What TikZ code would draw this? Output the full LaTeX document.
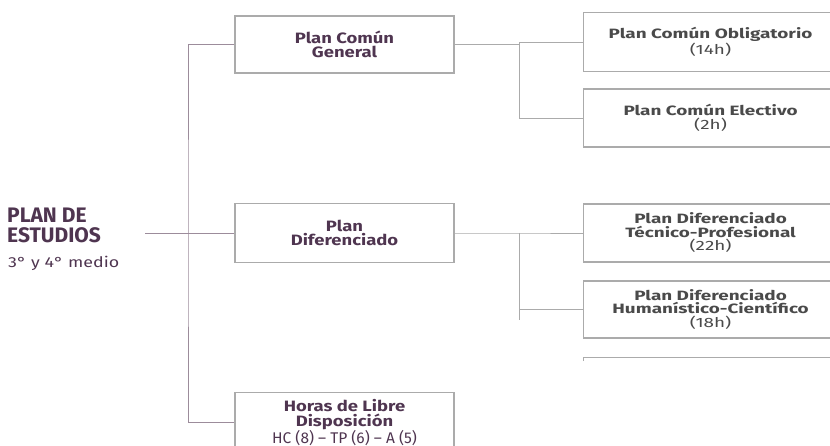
\documentclass[tikz,border=0pt]{standalone}
\usepackage{fontspec}
\setmainfont{Fira Sans}
\newfontfamily\leftfont[FakeStretch=1.23]{Fira Sans}
\newfontfamily\rightfont[FakeStretch=1.4]{Fira Sans}
\usepackage{xcolor}
\usetikzlibrary{positioning}

\definecolor{plum}{HTML}{4F3550}
\definecolor{treeline}{HTML}{9C8C9B}
\definecolor{boxline}{HTML}{ABABAB}
\definecolor{greytext}{HTML}{4A4A4A}

\begin{document}
\begin{tikzpicture}[x=1pt, y=-1pt,
            leftbox/.style={draw=boxline, line width=1.1pt, rectangle, minimum width=219pt, minimum height=57pt, align=center, text=plum, font=\leftfont\fontsize{15}{14.5}\selectfont\bfseries},
            rightbox/.style={draw=boxline, line width=1.1pt, rectangle, minimum width=254pt, minimum height=58pt, align=center, text=greytext, font=\rightfont\fontsize{13.5}{13.5}\selectfont\bfseries},
            tree/.style={draw=treeline, line width=0.9pt},
            branch/.style={draw=boxline, line width=0.9pt}]
            \useasboundingbox (0,0) rectangle (830,446);
            \clip (0,0) rectangle (830,446);

            % Nodes
            \node (title) [anchor=north west, align=left, text=plum, inner sep=0pt, font=\fontsize{21}{20}\selectfont\bfseries] at (7,208) {PLAN DE\\ESTUDIOS};
            \node (grade) [anchor=north west, text=plum, inner sep=0pt, font=\leftfont\fontsize{14.5}{16}\selectfont] at (8,256) {3° y 4° medio};
            \node (comun) [leftbox] at (344.5,44.5) {Plan Común\\General};
            \node (difer) [leftbox, minimum height=59pt] at (344.5,233) {Plan\\Diferenciado};
            \node (libre) [leftbox, minimum height=60pt, anchor=north] at (344.5,392) {Horas de Libre\\Disposición\\{\normalfont\fontsize{15.5}{14}\selectfont HC (8) – TP (6) – A (5)}};
            \node (oblig) [rightbox, minimum height=59pt, anchor=west] at (583,42) {Plan Común Obligatorio\\{\mdseries (14h)}};
            \node (elect) [rightbox, anchor=west] at (583,118) {Plan Común Electivo\\{\mdseries (2h)}};
            \node (tecpro) [rightbox, anchor=west] at (583,233) {Plan Diferenciado\\Técnico-Profesional\\{\mdseries (22h)}};
            \node (humcie) [rightbox, minimum height=57pt, anchor=west] at (583,309.5) {Plan Diferenciado\\Humanístico-Científico\\{\mdseries (18h)}};
            \coordinate (root) at (145,233);
            \coordinate (trunk) at (188,233);
            \coordinate (splitA) at (comun.east -| 519,0);
            \coordinate (splitB) at (difer.east -| 519,0);
            \coordinate (splitEnd) at (519,320);

            % Lines
            \path[tree] (root) -- (difer.west);
            \path[tree] (comun.west) -| (trunk) |- (libre.west);
            \path[branch] (comun.east) -- (splitA) |- (oblig.west);
            \path[branch] (splitA) |- (elect.west);
            \path[branch] (difer.east) -- (splitB) -- (tecpro.west);
            \path[branch] (splitB) -- (splitEnd);
            \path[branch] (humcie.west -| splitB) -- (humcie.west);
            % cut-off box below
            \path[branch] (583,361) -- (583,357) -- (835,357);
        \end{tikzpicture}
\end{document}
